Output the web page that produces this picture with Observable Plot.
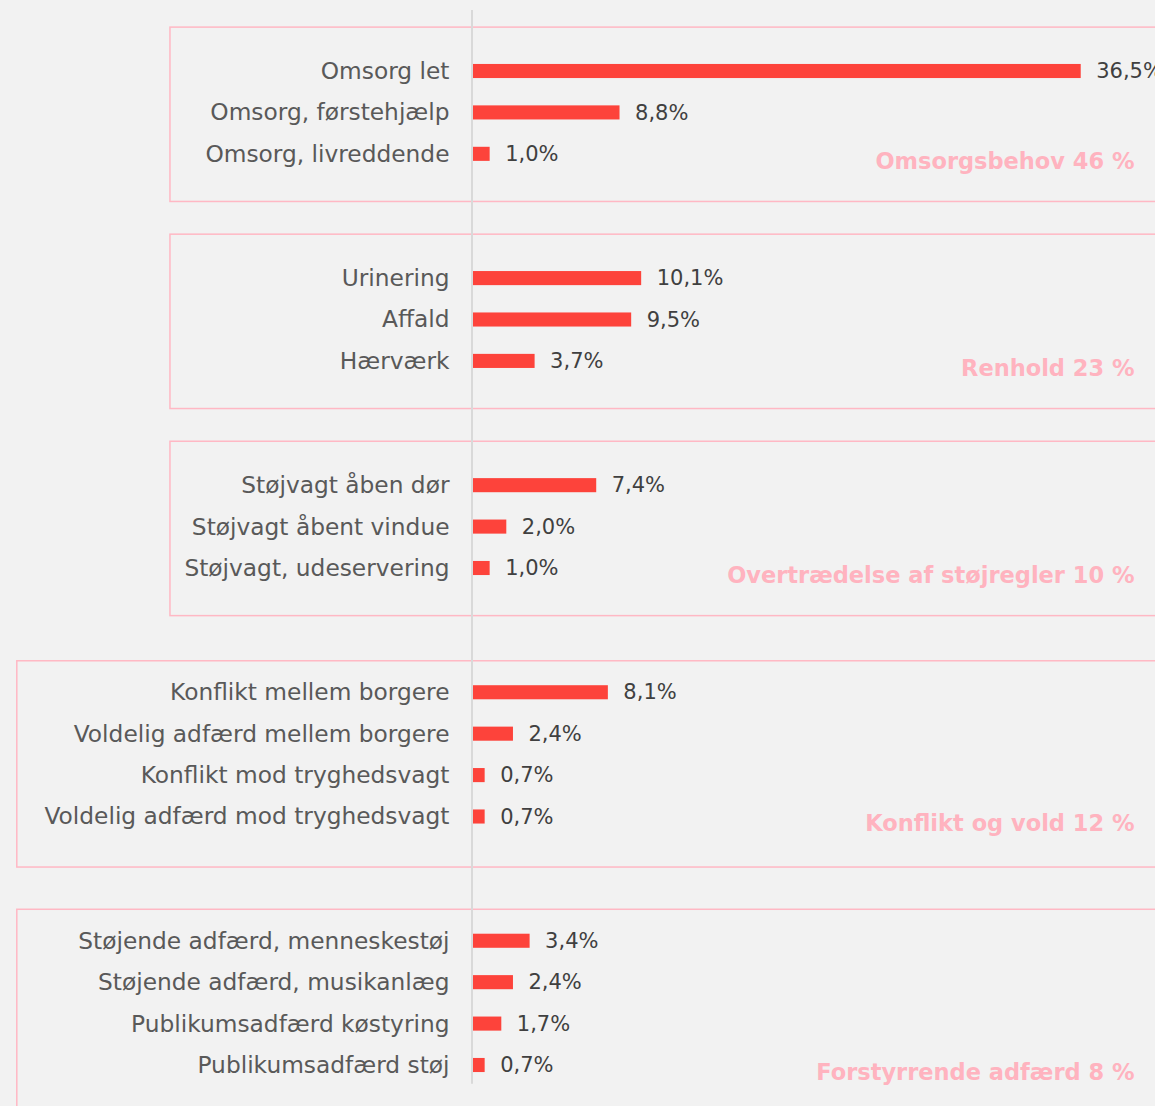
<!DOCTYPE html>
<html>
<head>
<meta charset="utf-8">
<script src="https://cdn.jsdelivr.net/npm/d3@7"></script>
<script src="https://cdn.jsdelivr.net/npm/@observablehq/plot@0.6"></script>
<style>
  html, body { margin: 0; padding: 0; background: #f2f2f2; }
  #chart svg { display: block; overflow: hidden; }
</style>
</head>
<body>
<div id="chart"></div>
<script>
// ---- data ----
const categories = [
  "Omsorg let", "Omsorg, førstehjælp", "Omsorg, livreddende",
  "Urinering", "Affald", "Hærværk",
  "Støjvagt åben dør", "Støjvagt åbent vindue", "Støjvagt, udeservering",
  "Konflikt mellem borgere", "Voldelig adfærd mellem borgere", "Konflikt mod tryghedsvagt", "Voldelig adfærd mod tryghedsvagt",
  "Støjende adfærd, menneskestøj", "Støjende adfærd, musikanlæg", "Publikumsadfærd køstyring", "Publikumsadfærd støj"
];
const values = [36.5, 8.8, 1.0, 10.1, 9.5, 3.7, 7.4, 2.0, 1.0, 8.1, 2.4, 0.7, 0.7, 3.4, 2.4, 1.7, 0.7];
const groupOf = [0,0,0, 1,1,1, 2,2,2, 3,3,3,3, 4,4,4,4];
const groupNames = ["Omsorgsbehov 46 %", "Renhold 23 %", "Overtrædelse af støjregler 10 %", "Konflikt og vold 12 %", "Forstyrrende adfærd 8 %"];

// ---- derived table ----
const GAP = 2; // empty rows between groups
const rows = categories.map((c, i) => ({
  cat: c, value: values[i], group: groupOf[i], row: i + GAP * groupOf[i],
  label: values[i].toFixed(1).replace(".", ",") + "%"
}));
const groups = groupNames.map((name, g) => {
  const r = rows.filter(d => d.group === g);
  const first = r[0].row, last = r[r.length - 1].row;
  const four = r.length > 3;
  return {
    name, first, last,
    top: first - (four ? 0.76 : 1.06),
    bottom: last + (four ? 1.22 : 1.15),
    left: four ? -27.4 : -18.2
  };
});

const W = 1155, H = 1106;
const FONT = "'DejaVu Sans', sans-serif";

const chart = Plot.plot({
  width: W, height: H,
  marginLeft: 473, marginRight: 16, marginTop: 0, marginBottom: 0,
  style: { background: "#f2f2f2", fontFamily: FONT, overflow: "hidden" },
  x: { domain: [0, 40], axis: null },
  y: { domain: [0, 24], range: [71, 1065], axis: null },
  marks: [
    // group boxes
    Plot.rect(groups, {
      x1: d => d.left, x2: 45, y1: "top", y2: "bottom",
      fill: "none", stroke: "#ffb8c4", strokeWidth: 1.5
    }),
    // vertical axis line
    Plot.ruleX([0], { y1: -1.47, y2: 24.45, stroke: "#d9d9d9", strokeWidth: 2, dx: -1.5 }),
    // bars
    Plot.rect(rows, {
      x1: 0, x2: "value",
      y1: d => d.row - 0.17, y2: d => d.row + 0.17,
      fill: "#fd433b"
    }),
    // category labels
    Plot.text(rows, {
      x: 0, y: "row", text: "cat", textAnchor: "end", dx: -24,
      fontSize: 23.3, fill: "#595959"
    }),
    // value labels
    Plot.text(rows, {
      x: "value", y: "row", text: "label", textAnchor: "start", dx: 15,
      fontSize: 21, fill: "#404040"
    }),
    // group labels
    Plot.text(groups, {
      x: 40, y: "last", text: "name", textAnchor: "end", dx: -5, dy: 7,
      fontSize: 22.5, fontWeight: "bold", fill: "#ffb3bf"
    })
  ]
});

document.getElementById("chart").appendChild(chart);
</script>
</body>
</html>
